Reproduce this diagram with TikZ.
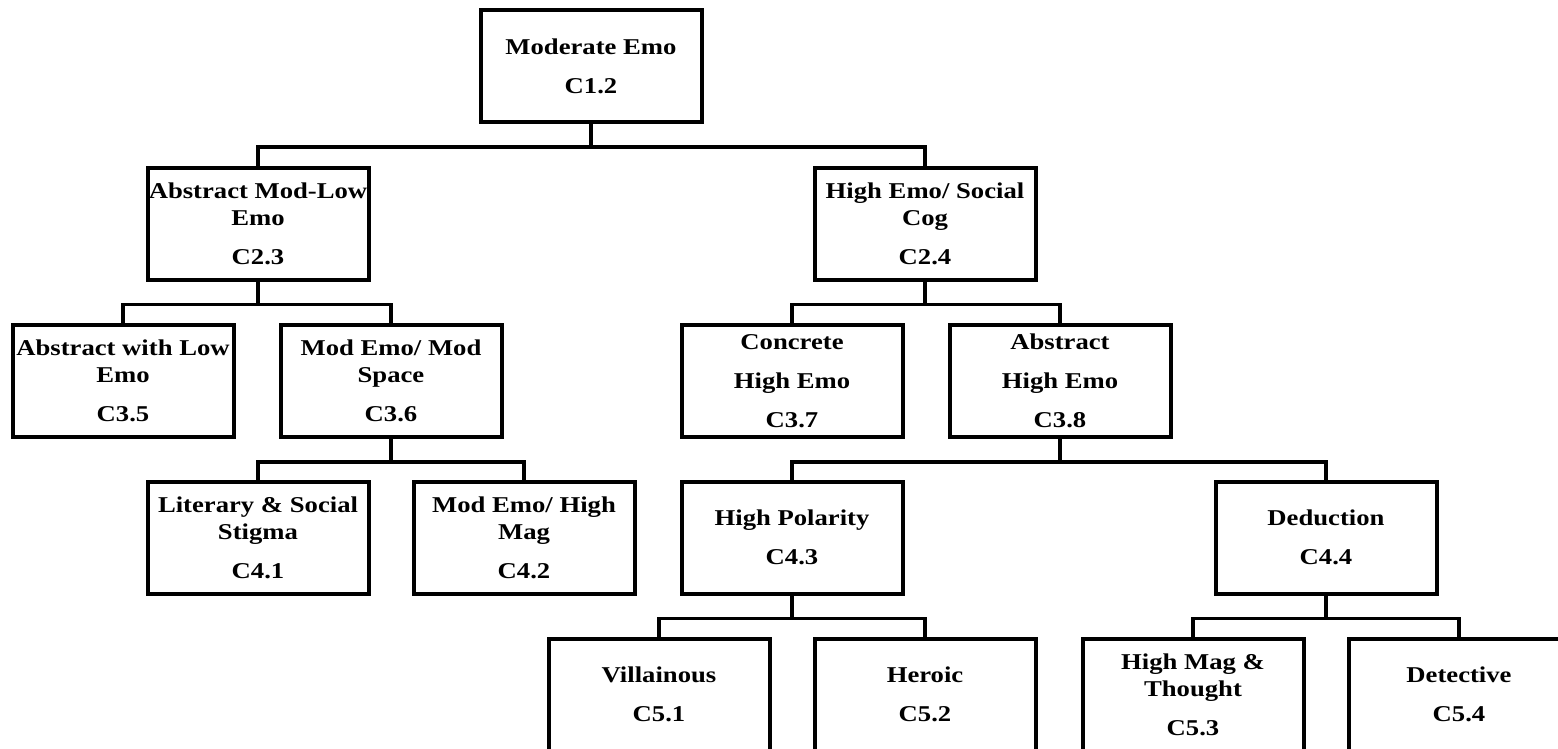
\documentclass[tikz,border=0pt]{standalone}
\usepackage{fontspec}
\newfontfamily\boxfont{Liberation Serif}[FakeStretch=1.18]
\tikzset{
  cluster/.style={draw, line width=2pt, minimum width=110.5pt, minimum height=56pt,
    inner sep=0pt, align=center, font=\boxfont\bfseries\fontsize{11.3}{13.5}\selectfont},
  branch/.style={line width=1.7pt}
}
\begin{document}
\begin{tikzpicture}[x=0.5pt,y=-0.5pt]
  \fill[white] (0,0) rectangle (1558,749);
  \clip (0,0) rectangle (1558,749);
  % level 1
  \node[cluster] (c12) at (591,66) {Moderate Emo\\[6pt]C1.2};
  % level 2
  \node[cluster] (c23) at (258,223.5) {Abstract Mod-Low\\Emo\\[6pt]C2.3};
  \node[cluster] (c24) at (925,223.5) {High Emo/ Social\\Cog\\[6pt]C2.4};
  % level 3
  \node[cluster] (c35) at (123,381) {Abstract with Low\\Emo\\[6pt]C3.5};
  \node[cluster] (c36) at (391,381) {Mod Emo/ Mod\\Space\\[6pt]C3.6};
  \node[cluster] (c37) at (792,381) {Concrete\\[6pt]High Emo\\[6pt]C3.7};
  \node[cluster] (c38) at (1060,381) {Abstract\\[6pt]High Emo\\[6pt]C3.8};
  % level 4
  \node[cluster] (c41) at (258,537.5) {Literary \& Social\\Stigma\\[6pt]C4.1};
  \node[cluster] (c42) at (524,537.5) {Mod Emo/ High\\Mag\\[6pt]C4.2};
  \node[cluster] (c43) at (792,537.5) {High Polarity\\[6pt]C4.3};
  \node[cluster] (c44) at (1326,537.5) {Deduction\\[6pt]C4.4};
  % level 5
  \node[cluster] (c51) at (659,694.5) {Villainous\\[6pt]C5.1};
  \node[cluster] (c52) at (925,694.5) {Heroic\\[6pt]C5.2};
  \node[cluster] (c53) at (1193,694.5) {High Mag \&\\Thought\\[6pt]C5.3};
  \node[cluster] (c54) at (1459,694.5) {Detective\\[6pt]C5.4};
  % branches
  \foreach \p/\c in {c12/c23,c12/c24,c23/c35,c23/c36,c24/c37,c24/c38,
                     c36/c41,c36/c42,c38/c43,c38/c44,c43/c51,c43/c52,c44/c53,c44/c54}
    \draw[branch] (\p.south) -- ++(0,23) -| (\c.north);
\end{tikzpicture}
\end{document}
